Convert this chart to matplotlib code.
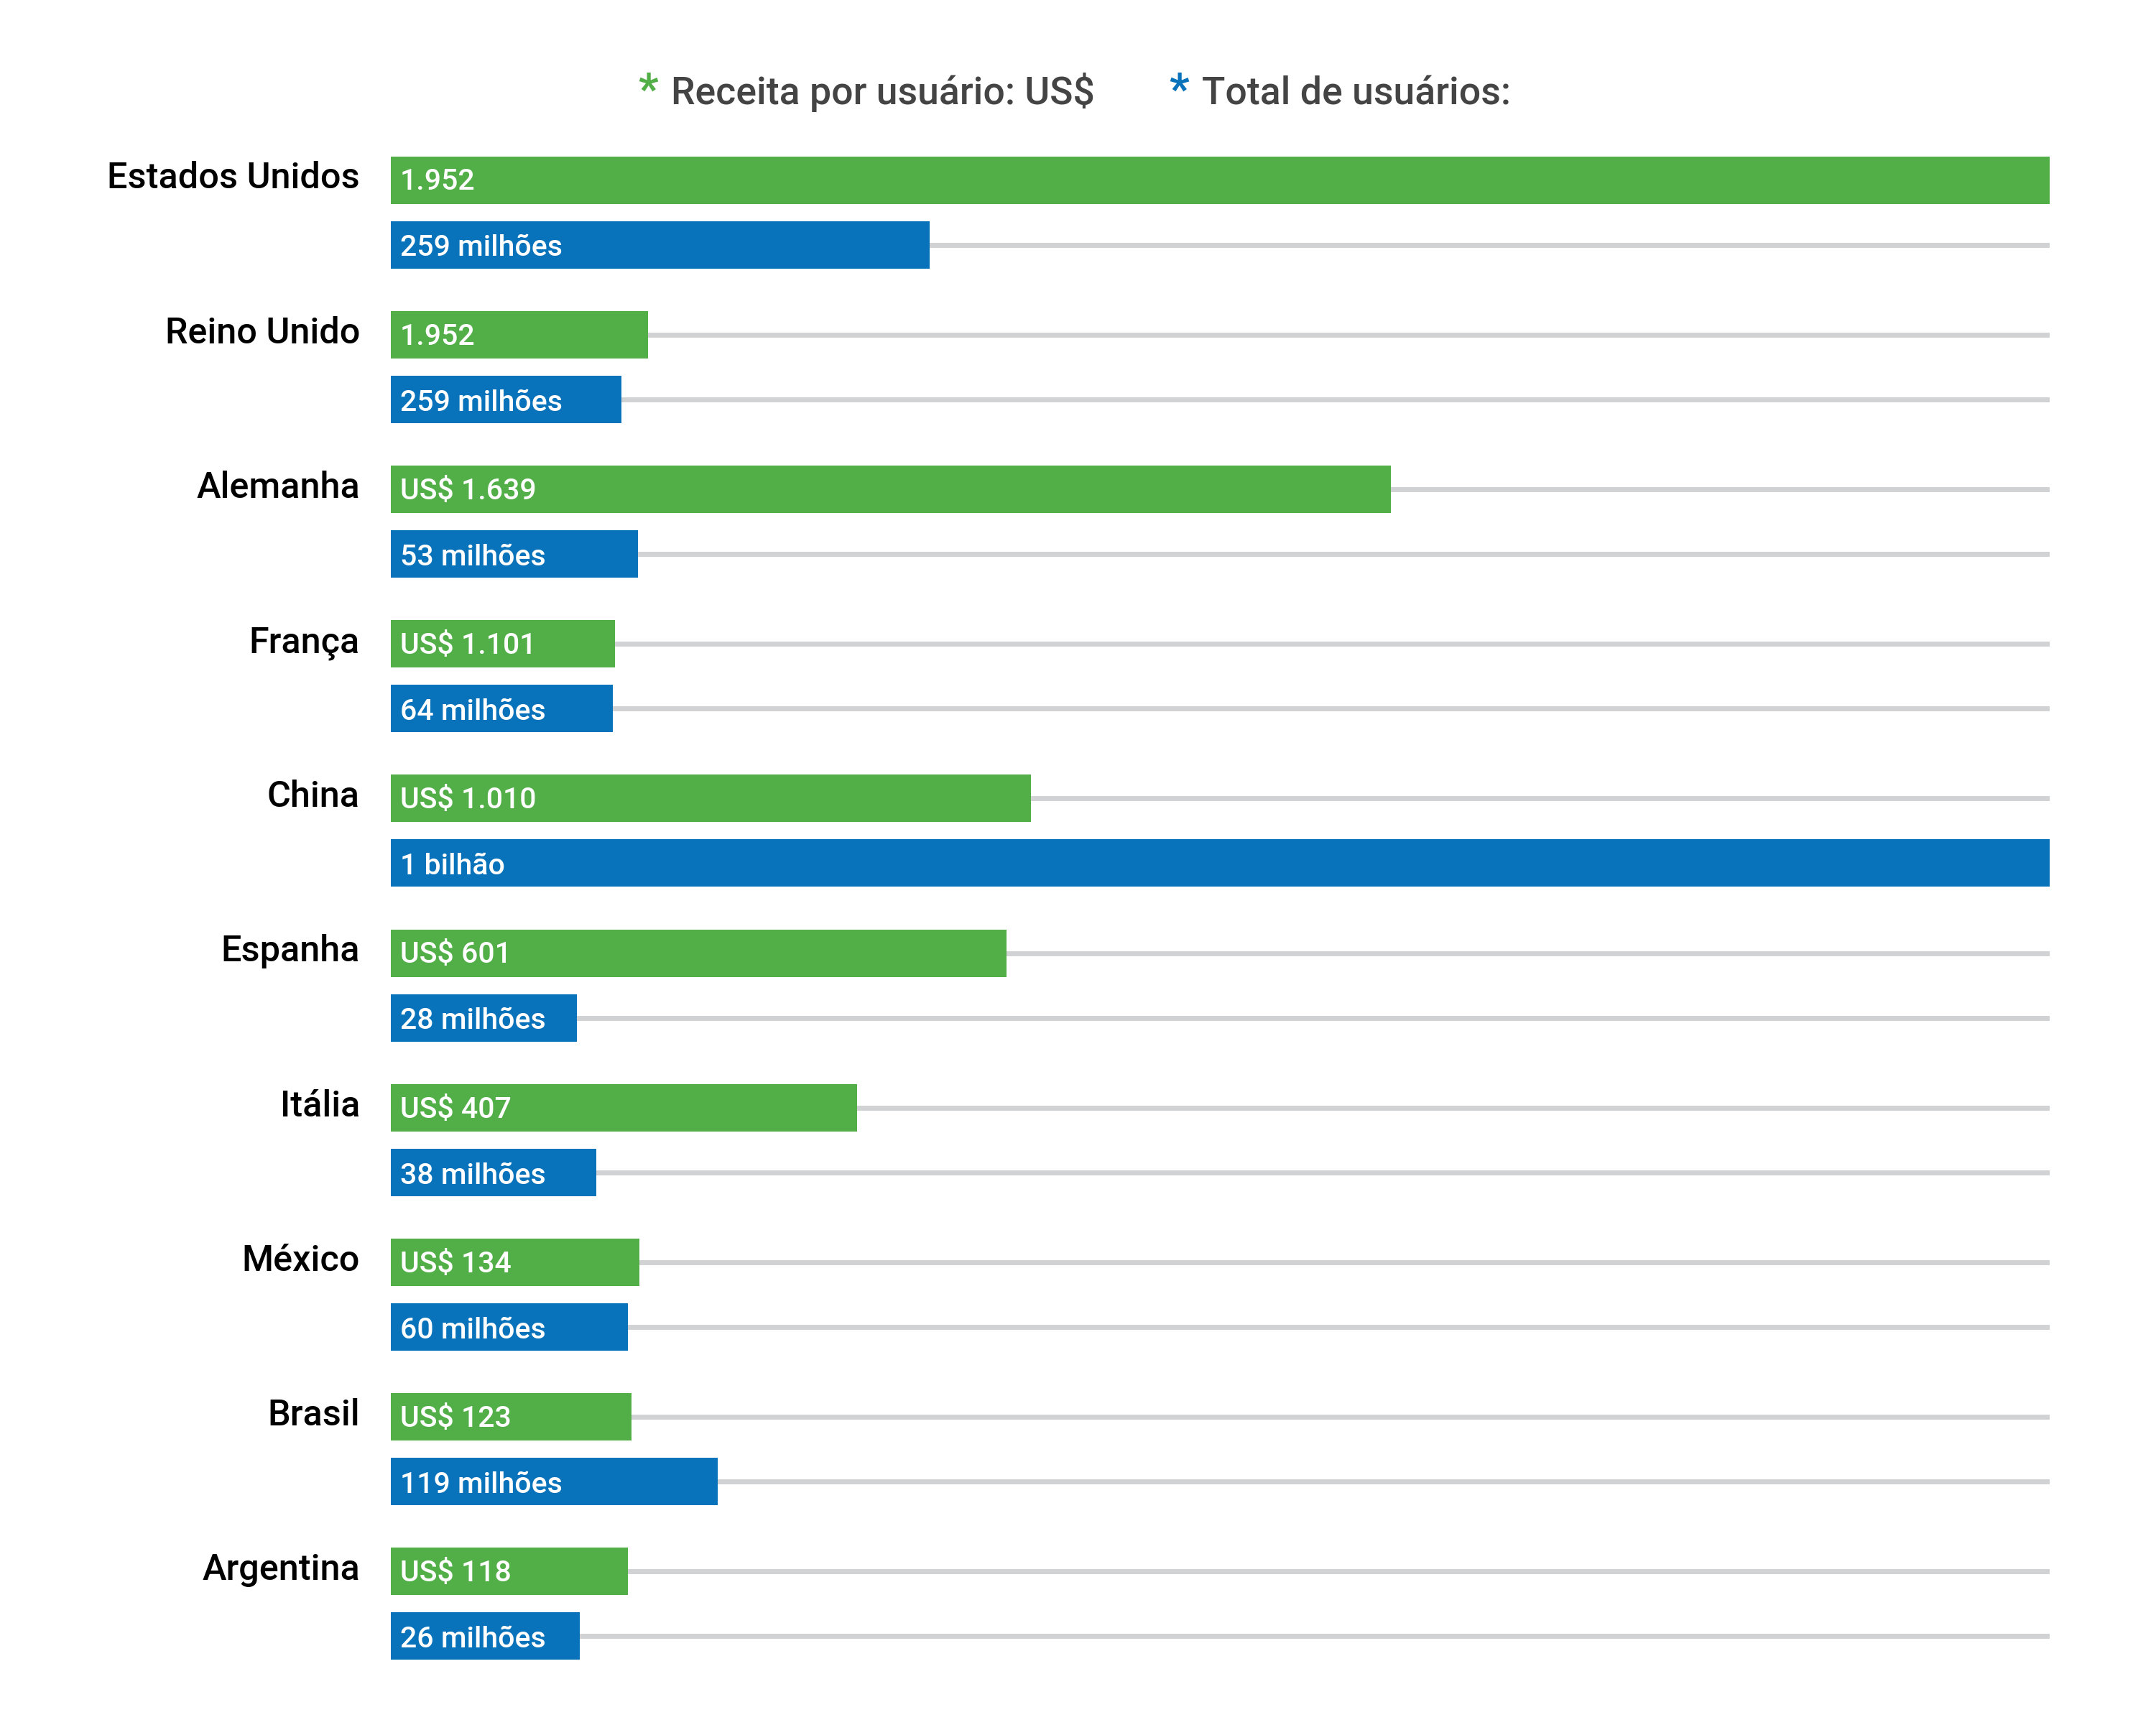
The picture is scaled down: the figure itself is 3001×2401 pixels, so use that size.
import numpy as np
import matplotlib.pyplot as plt

paises = ['Estados Unidos', 'Reino Unido', 'Alemanha', 'França', 'China',
          'Espanha', 'Itália', 'México', 'Brasil', 'Argentina']
receita_rotulos = ['1.952', '1.952', 'US$ 1.639', 'US$ 1.101', 'US$ 1.010',
                   'US$ 601', 'US$ 407', 'US$ 134', 'US$ 123', 'US$ 118']
usuarios_rotulos = ['259 milhões', '259 milhões', '53 milhões', '64 milhões', '1 bilhão',
                    '28 milhões', '38 milhões', '60 milhões', '119 milhões', '26 milhões']
# comprimento das barras (% da largura total)
receita_barra = [100, 15.5, 60.3, 13.5, 38.6, 37.1, 28.1, 15.0, 14.5, 14.3]
usuarios_barra = [32.5, 13.9, 14.9, 13.4, 100, 11.2, 12.4, 14.3, 19.7, 11.4]

verde = '#52af48'
azul = '#0872ba'
cinza = '#d1d2d4'

W, H = 3001, 2401
fig = plt.figure(figsize=(W / 100, H / 100), dpi=100)
plt.rcParams['font.family'] = ['Roboto', 'DejaVu Sans']

x0, x1 = 544, 2853
row = 215.2
top = 250.5
ax = fig.add_axes([x0 / W, 0, (x1 - x0) / W, 1])
ax.set_xlim(0, 100)
ax.set_ylim((H - top) / row, -top / row)
ax.axis('off')

y = np.arange(len(paises))
off = 90 / row
h = 66 / row

for yy in y:
    ax.plot([0, 100], [yy, yy], color=cinza, lw=5, solid_capstyle='butt', zorder=1)
    ax.plot([0, 100], [yy + off, yy + off], color=cinza, lw=5, solid_capstyle='butt', zorder=1)

ax.barh(y, receita_barra, height=h, color=verde, zorder=2)
ax.barh(y + off, usuarios_barra, height=h, color=azul, zorder=2)

dx = 13 / (x1 - x0) * 100
for i in range(len(paises)):
    ax.text(dx, y[i] + 14 / row, receita_rotulos[i], color='white', fontsize=29.5,
            fontweight='medium', va='baseline', ha='left', zorder=3)
    ax.text(dx, y[i] + off + 16 / row, usuarios_rotulos[i], color='white', fontsize=29.5,
            fontweight='medium', va='baseline', ha='left', zorder=3)
    ax.text(-(x0 - 501) / (x1 - x0) * 100, y[i] + 12 / row, paises[i], color='black',
            fontsize=36.3, fontweight='medium', va='baseline', ha='right', zorder=3)

# legenda no topo
by = 1 - 145 / H
fig.text(888 / W, by, '*', color=verde, fontsize=44, va='baseline', ha='left', fontweight='bold')
fig.text(934 / W, by, 'Receita por usuário: US$', color='#444444', fontsize=38.5,
         fontweight='medium', va='baseline', ha='left')
fig.text(1627 / W, by, '*', color=azul, fontsize=44, va='baseline', ha='left', fontweight='bold')
fig.text(1673 / W, by, 'Total de usuários:', color='#444444', fontsize=38.5,
         fontweight='medium', va='baseline', ha='left')

fig.savefig('out.png', dpi=100, facecolor='white')
